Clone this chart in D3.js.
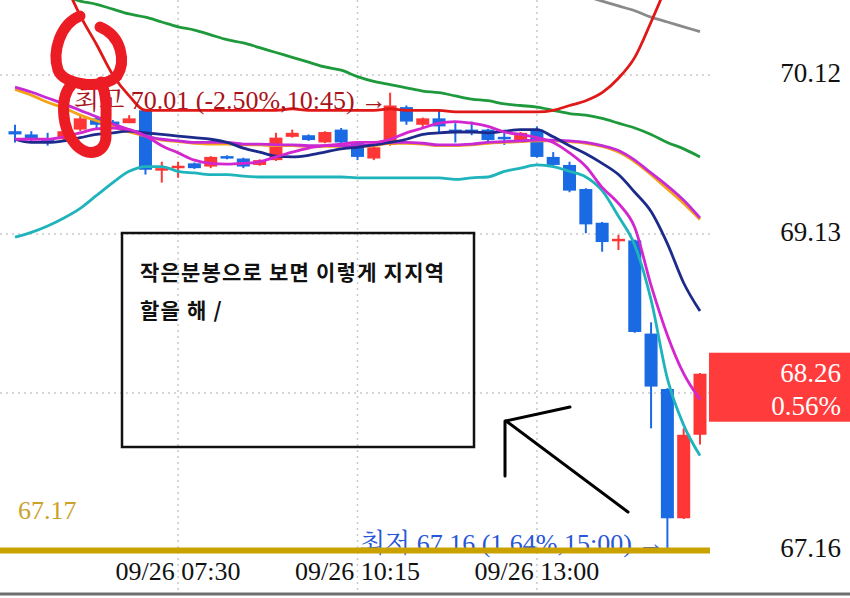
<!DOCTYPE html>
<html><head><meta charset="utf-8">
<script src="https://cdn.jsdelivr.net/npm/d3@7/dist/d3.min.js"></script>
<style>body{margin:0;background:#fff}svg{display:block}</style>
</head><body><svg id="c" width="850" height="598"></svg>
<script>
// ---- data ----
const times = ["05:00","05:15","05:30","05:45","06:00","06:15","06:30","06:45","07:00","07:15","07:30","07:45","08:00","08:15","08:30","08:45","09:00","09:15","09:30","09:45","10:00","10:15","10:30","10:45","11:00","11:15","11:30","11:45","12:00","12:15","12:30","12:45","13:00","13:15","13:30","13:45","14:00","14:15","14:30","14:45","15:00","15:15","15:30"];
const open  = [69.77,69.75,69.72,69.72,69.78,69.85,69.83,69.82,69.90,69.535,69.55,69.57,69.55,69.615,69.60,69.56,69.59,69.735,69.745,69.70,69.78,69.70,69.60,69.685,69.92,69.81,69.85,69.78,69.78,69.78,69.735,69.715,69.78,69.61,69.56,69.41,69.20,69.095,69.09,68.51,68.165,67.36,67.88];
const high  = [69.81,69.77,69.76,69.78,69.87,69.86,69.84,69.87,69.91,69.58,69.58,69.575,69.615,69.62,69.605,69.595,69.76,69.78,69.75,69.77,69.79,69.705,69.675,70.01,69.93,69.855,69.90,69.82,69.83,69.785,69.765,69.765,69.80,69.64,69.58,69.415,69.205,69.125,69.095,68.58,68.17,67.92,68.265];
const low   = [69.70,69.70,69.68,69.71,69.77,69.78,69.80,69.82,69.50,69.45,69.48,69.535,69.54,69.595,69.54,69.555,69.585,69.73,69.71,69.695,69.695,69.59,69.59,69.68,69.81,69.79,69.765,69.70,69.745,69.70,69.685,69.71,69.605,69.555,69.39,69.135,69.02,69.03,68.515,67.92,67.16,67.355,67.82];
const close = [69.75,69.72,69.71,69.77,69.85,69.81,69.81,69.85,69.53,69.54,69.555,69.54,69.61,69.60,69.55,69.59,69.73,69.76,69.715,69.765,69.70,69.61,69.67,69.93,69.83,69.85,69.80,69.775,69.775,69.715,69.73,69.76,69.61,69.56,69.40,69.19,69.08,69.10,68.52,68.18,67.36,67.88,68.26];

const maGreen   = [70.69,70.66,70.63,70.61,70.58,70.56,70.53,70.50,70.48,70.45,70.42,70.40,70.37,70.34,70.32,70.29,70.26,70.23,70.20,70.17,70.15,70.11,70.08,70.06,70.04,70.02,70.01,69.99,69.97,69.96,69.94,69.93,69.92,69.90,69.88,69.87,69.85,69.82,69.79,69.75,69.70,69.66,69.61];
const bandUpper = [71.40,71.21,70.96,70.71,70.49,70.31,70.12,69.99,69.90,69.90,69.90,69.90,69.90,69.90,69.90,69.90,69.90,69.91,69.90,69.90,69.90,69.90,69.90,69.91,69.90,69.90,69.90,69.89,69.89,69.89,69.89,69.89,69.89,69.90,69.93,69.96,70.01,70.10,70.23,70.45,70.69,70.95,71.20];
const bandLower = [69.11,69.14,69.18,69.23,69.29,69.37,69.45,69.52,69.55,69.55,69.52,69.51,69.50,69.50,69.49,69.485,69.485,69.485,69.485,69.485,69.485,69.48,69.48,69.48,69.48,69.48,69.48,69.47,69.48,69.485,69.52,69.54,69.56,69.55,69.52,69.485,69.40,69.24,69.06,68.72,68.23,67.94,67.75];
const maGrey    = [null,null,null,null,null,null,null,null,null,null,null,null,null,null,null,null,null,null,null,null,null,null,null,null,null,null,null,null,null,null,null,null,null,null,70.64,70.61,70.58,70.55,70.52,70.48,70.45,70.42,70.39];
const maNavy    = [69.72,69.70,69.70,69.71,69.73,69.75,69.76,69.77,69.76,69.75,69.74,69.73,69.72,69.70,69.665,69.64,69.615,69.61,69.62,69.64,69.66,69.67,69.685,69.70,69.72,69.75,69.76,69.765,69.765,69.76,69.77,69.78,69.78,69.735,69.68,69.63,69.57,69.50,69.39,69.27,69.07,68.825,68.65];
const maOrange  = [70.03,69.995,69.95,69.915,69.87,69.835,69.80,69.765,69.74,69.715,69.705,69.695,69.69,69.69,69.685,69.685,69.68,69.68,69.675,69.675,69.675,69.675,69.68,69.695,69.695,69.69,69.68,69.68,69.685,69.695,69.70,69.705,69.71,69.71,69.705,69.695,69.675,69.64,69.58,69.50,69.41,69.32,69.22];
const maMagSlow = [70.045,70.014,69.977,69.94,69.90,69.86,69.815,69.78,69.74,69.72,69.71,69.70,69.70,69.70,69.69,69.69,69.685,69.685,69.68,69.68,69.68,69.68,69.685,69.70,69.70,69.695,69.685,69.685,69.69,69.70,69.705,69.71,69.715,69.715,69.71,69.70,69.68,69.65,69.59,69.51,69.43,69.34,69.23];
const maMagFast = [69.72,69.72,69.72,69.735,69.76,69.785,69.79,69.78,69.74,69.68,69.635,69.59,69.57,69.565,69.57,69.58,69.61,69.64,69.665,69.68,69.69,69.70,69.70,69.72,69.76,69.79,69.82,69.83,69.82,69.80,69.765,69.75,69.73,69.70,69.635,69.55,69.42,69.32,69.17,68.81,68.50,68.26,68.10];

const xTickTimes  = ["07:30","10:15","13:00"];
const xTickLabels = ["09/26 07:30","09/26 10:15","09/26 13:00"];
const yGrid       = [70.12,69.13,68.14];
const yTickLabels = [70.12,69.13];
const lastPrice = 68.26, lastPct = "0.56%";
const hiPrice = 70.01, hiIdx = 23, hiText = "최고 70.01 (-2.50%,10:45) →";
const loPrice = 67.16, loIdx = 40, loText = "최저 67.16 (1.64%,15:00) →";
const prevLabel = "67.17";
const noteLines = ["작은분봉으로 보면 이렇게 지지역", "할을 해 /"];

// ---- drawing ----
const W = 850, H = 598, plotR = 710;
const svg = d3.select("#c");
svg.append("rect").attr("width", W).attr("height", H).attr("fill", "#fff");
const x = d3.scalePoint().domain(times).range([15, 700]);
const y = d3.scaleLinear().domain([70.12, 68.14]).range([75, 393]);
const serif = "'Liberation Serif','Times New Roman','Noto Serif CJK KR','Noto Sans CJK KR',serif";
const clipId = "plotclip";
svg.append("clipPath").attr("id", clipId).append("rect").attr("x", 0).attr("y", 0).attr("width", plotR).attr("height", 592);

// grid
const grid = svg.append("g").attr("stroke", "#c9c9c9").attr("stroke-width", 1.5).attr("stroke-dasharray", "2,4");
grid.selectAll(".h").data(yGrid).join("line").attr("x1", 0).attr("x2", plotR).attr("y1", d => y(d)).attr("y2", d => y(d));
grid.selectAll(".v").data(xTickTimes).join("line").attr("x1", d => x(d)).attr("x2", d => x(d)).attr("y1", 0).attr("y2", 592);

// candles
const idx = d3.range(times.length);
const up = i => close[i] >= open[i];
const colUp = "#ff3636", colDn = "#1a6be3";
const cg = svg.append("g").attr("clip-path", `url(#${clipId})`);
cg.selectAll(".wick").data(idx).join("line")
  .attr("x1", i => x(times[i])).attr("x2", i => x(times[i]))
  .attr("y1", i => y(high[i])).attr("y2", i => y(low[i]))
  .attr("stroke", i => up(i) ? colUp : colDn).attr("stroke-width", 2);
cg.selectAll(".body").data(idx).join("rect")
  .attr("x", i => x(times[i]) - 6.5).attr("width", 13)
  .attr("y", i => y(Math.max(open[i], close[i])))
  .attr("height", i => Math.max(2.5, Math.abs(y(open[i]) - y(close[i]))))
  .attr("fill", i => up(i) ? colUp : colDn);

// lines
const lineGen = arr => d3.line().defined(i => arr[i] != null)
  .x(i => x(times[i])).y(i => y(arr[i])).curve(d3.curveMonotoneX)(idx);
const series = [
  [maGrey, "#8a8a8a"], [maGreen, "#1e9a3c"], [bandUpper, "#e01818"], [bandLower, "#1fb3bb"],
  [maOrange, "#f3a316"], [maMagSlow, "#c62ad6"], [maNavy, "#1c2a8c"], [maMagFast, "#d426cf"]
];
const lg = svg.append("g").attr("clip-path", `url(#${clipId})`).attr("fill", "none").attr("stroke-width", 2.8).attr("stroke-linejoin", "round");
series.forEach(([arr, c]) => lg.append("path").attr("d", lineGen(arr)).attr("stroke", c));

// high annotation
svg.append("text").attr("x", x(times[hiIdx]) - 3).attr("y", y(hiPrice) + 16)
  .attr("text-anchor", "end").attr("font-family", serif).attr("font-size", 26).attr("fill", "#a8141a").text(hiText);

// low annotation (under gold line)
svg.append("text").attr("x", x(times[loIdx]) - 3).attr("y", y(loPrice) + 2)
  .attr("text-anchor", "end").attr("font-family", serif).attr("font-size", 26).attr("fill", "#2856d8").text(loText);
svg.append("line").attr("x1", 0).attr("x2", plotR).attr("y1", y(loPrice)).attr("y2", y(loPrice))
  .attr("stroke", "#c9a200").attr("stroke-width", 6);

// previous close label
svg.append("text").attr("x", 18).attr("y", 519).attr("font-family", serif).attr("font-size", 26).attr("fill", "#c9a227").text(prevLabel);

// right axis labels
svg.selectAll(".yl").data(yTickLabels).join("text").attr("x", 841).attr("y", d => y(d) + 7)
  .attr("text-anchor", "end").attr("font-family", serif).attr("font-size", 27).attr("fill", "#111").text(d => d.toFixed(2));
svg.append("text").attr("x", 841).attr("y", y(loPrice) + 7).attr("text-anchor", "end")
  .attr("font-family", serif).attr("font-size", 27).attr("fill", "#111").text(loPrice.toFixed(2));

// last price box
svg.append("rect").attr("x", 709).attr("y", y(lastPrice) - 21).attr("width", 141).attr("height", 69).attr("fill", "#ff3b3b");
svg.append("text").attr("x", 841).attr("y", y(lastPrice) + 8).attr("text-anchor", "end")
  .attr("font-family", serif).attr("font-size", 27).attr("fill", "#fff").text(lastPrice.toFixed(2));
svg.append("text").attr("x", 841).attr("y", y(lastPrice) + 41).attr("text-anchor", "end")
  .attr("font-family", serif).attr("font-size", 27).attr("fill", "#fff").text(lastPct);

// x axis labels
svg.selectAll(".xl").data(xTickTimes).join("text").attr("x", d => x(d)).attr("y", 580)
  .attr("text-anchor", "middle").attr("font-family", serif).attr("font-size", 26).attr("fill", "#111")
  .text((d, i) => xTickLabels[i]);

// bottom rule
svg.append("line").attr("x1", 0).attr("x2", W).attr("y1", 594).attr("y2", 594).attr("stroke", "#6e6e6e").attr("stroke-width", 3);

// note box
svg.append("rect").attr("x", 122).attr("y", 233).attr("width", 352).attr("height", 214)
  .attr("fill", "none").attr("stroke", "#111").attr("stroke-width", 2.5);
svg.selectAll(".note").data(noteLines).join("text").attr("x", 140).attr("y", (d, i) => 280 + i * 38)
  .attr("font-family", "'Noto Sans CJK KR','Noto Sans',sans-serif").attr("font-weight", "bold")
  .attr("font-size", 21).attr("letter-spacing", 1.2).attr("fill", "#111").text(d => d);

// hand-drawn arrow
const ar = svg.append("g").attr("stroke", "#000").attr("stroke-width", 3).attr("stroke-linecap", "round").attr("fill", "none");
ar.append("path").attr("d", "M628,512 L506,421");
ar.append("path").attr("d", "M506,421 L570,407");
ar.append("path").attr("d", "M505,421 L505,476");

// hand-drawn red "8"
const h8 = svg.append("g").attr("stroke", "#ec1c24").attr("stroke-width", 11).attr("stroke-linecap", "round").attr("fill", "none");
h8.append("path").attr("d", "M80,16 C60,24 52,52 58,70 C64,86 104,90 117,76 C126,62 122,36 100,27");
h8.append("path").attr("d", "M72,84 C60,96 60,128 77,146 C90,158 106,152 106,136 C105,120 109,100 101,82");
</script>
</body></html>
